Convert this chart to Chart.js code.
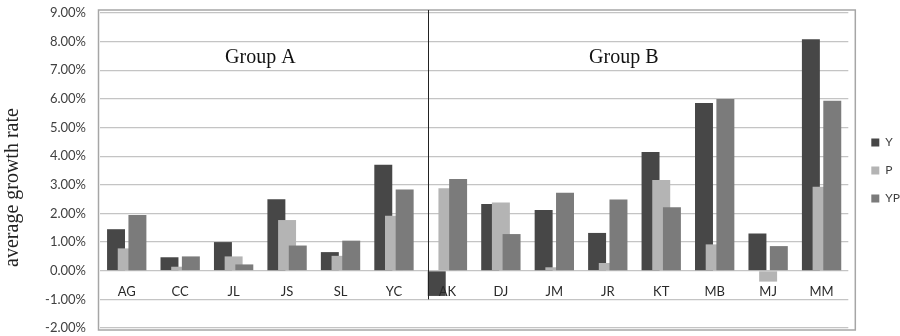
<!DOCTYPE html>
<html>
<head>
<meta charset="utf-8">
<script src="https://cdn.jsdelivr.net/npm/chart.js@4/dist/chart.umd.min.js"></script>
<style>
  html, body { margin: 0; padding: 0; background: #ffffff; }
  canvas { display: block; }
</style>
</head>
<body>
<canvas id="c" width="900" height="336"></canvas>
<script>
// ---- data ----
const categories = ['AG', 'CC', 'JL', 'JS', 'SL', 'YC', 'AK', 'DJ', 'JM', 'JR', 'KT', 'MB', 'MJ', 'MM'];
const seriesY  = [1.45, 0.47, 1.00, 2.50, 0.65, 3.70, -0.88, 2.33, 2.12, 1.32, 4.15, 5.86, 1.30, 8.08];
const seriesP  = [0.78, 0.14, 0.50, 1.77, 0.52, 1.92, 2.88, 2.38, 0.12, 0.27, 3.17, 0.92, -0.38, 2.93];
const seriesYP = [1.95, 0.50, 0.22, 0.88, 1.05, 2.84, 3.20, 1.28, 2.72, 2.49, 2.22, 6.00, 0.86, 5.94];
const seriesNames = ['Y', 'P', 'YP'];
const yTicksMin = -2;
const yTicksMax = 9;
const yTickStep = 1;
const groupNames = ['Group A', 'Group B'];
const axisTitle = 'average growth rate';

const colors = ['#474747', '#b4b4b4', '#7b7b7b'];
const tickFont = { family: 'Lato', size: 13 };
const textColor = '#404040';

// draw datasets in index order so later series sit on top (Excel overlap style)
const drawOrderPlugin = {
  id: 'drawOrder',
  beforeDatasetsDraw(chart) {
    for (let i = 0; i < chart.data.datasets.length; i++) {
      const meta = chart.getDatasetMeta(i);
      if (!meta.hidden) meta.controller.draw();
    }
    return false;
  }
};

const decorPlugin = {
  id: 'decor',
  afterDraw(chart) {
    const ctx = chart.ctx;
    const a = chart.chartArea;
    const xs = chart.scales.x;
    const ys = chart.scales.y;
    ctx.save();
    // plot frame
    ctx.strokeStyle = '#a6a6a6';
    ctx.lineWidth = 1.5;
    ctx.strokeRect(a.left - 1.5, a.top - 3, (a.right + 7) - (a.left - 1.5), (a.bottom + 2) - (a.top - 3));
    // separator between groups: at the left edge of the first Group B bar
    const firstB = chart.getDatasetMeta(0).data[6];
    const sx = Math.round(firstB.x - firstB.width / 2) + 0.5;
    ctx.strokeStyle = '#222222';
    ctx.lineWidth = 1;
    ctx.beginPath();
    ctx.moveTo(sx, a.top - 3);
    ctx.lineTo(sx, ys.getPixelForValue(-1));
    ctx.stroke();
    // group labels
    ctx.fillStyle = '#111111';
    ctx.font = '20px "Liberation Serif"';
    ctx.textAlign = 'center';
    ctx.textBaseline = 'middle';
    ctx.fillText(groupNames[0], xs.getPixelForValue(2.5), ys.getPixelForValue(7.45));
    ctx.fillText(groupNames[1], xs.getPixelForValue(9.3), ys.getPixelForValue(7.45));
    // axis title
    ctx.translate(a.left - 87, (a.top + a.bottom) / 2 + 17);
    ctx.rotate(-Math.PI / 2);
    ctx.fillStyle = '#222222';
    ctx.fillText(axisTitle, 0, 0);
    ctx.restore();
  }
};

const datasets = [seriesY, seriesP, seriesYP].map((vals, i) => ({
  label: seriesNames[i],
  data: vals,
  backgroundColor: colors[i],
  borderWidth: 0,
  categoryPercentage: 0.6,
  barPercentage: 1.68
}));

new Chart(document.getElementById('c'), {
  type: 'bar',
  data: { labels: categories, datasets },
  options: {
    responsive: false,
    animation: false,
    events: [],
    layout: { padding: { top: 13, bottom: 8, left: 0, right: -10 } },
    plugins: {
      tooltip: { enabled: false },
      title: { display: false },
      legend: {
        position: 'right',
        align: 'center',
        labels: {
          boxWidth: 8,
          boxHeight: 8,
          padding: 16,
          color: textColor,
          font: { family: 'Lato', size: 12 }
        }
      }
    },
    scales: {
      x: {
        position: { y: 0 },
        grid: { display: false },
        border: { display: false },
        ticks: { z: 1, color: '#2a2a2a', font: tickFont, padding: 5, maxRotation: 0, autoSkip: false },
        afterFit(s) { s.paddingTop = 0; s.paddingBottom = 0; s.height = 0; }
      },
      y: {
        min: yTicksMin,
        max: yTicksMax,
        grid: { color: '#c4c4c4', lineWidth: 1.2, drawTicks: false },
        border: { display: false },
        ticks: {
          stepSize: yTickStep,
          color: textColor,
          font: tickFont,
          padding: 14,
          callback: v => v.toFixed(2) + '%'
        },
        afterFit(s) { s.width = 100; s.paddingTop = 0; s.paddingBottom = 0; }
      },
      y2: {
        position: 'right',
        display: true,
        grid: { display: false },
        border: { display: false },
        ticks: { display: false },
        afterFit(s) { s.width = 7; s.paddingTop = 0; s.paddingBottom = 0; }
      }
    }
  },
  plugins: [drawOrderPlugin, decorPlugin]
});
</script>
</body>
</html>
